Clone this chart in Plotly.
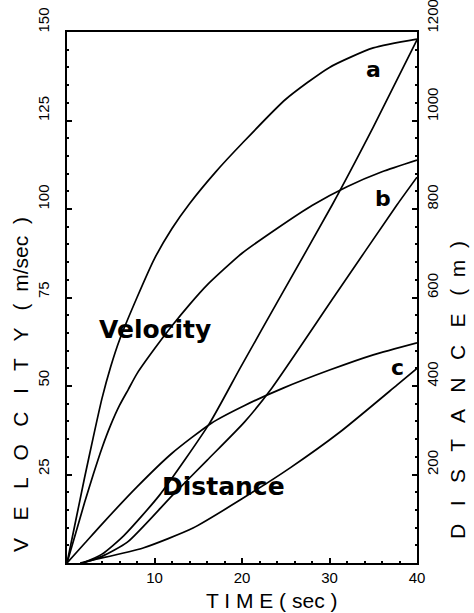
import plotly.graph_objects as go

# Velocity curves (m/sec) vs time (sec)
t_vel_a = [0, 1, 2, 3, 4, 5, 6, 8, 10, 12, 14, 17, 20, 25, 30, 35, 40]
vel_a = [0, 12, 24, 35.5, 46.5, 55.5, 63, 75, 86, 94.5, 101.5, 110.5, 118.5, 131, 140, 145.5, 148]

t_vel_b = [0, 1, 2, 3, 4, 5, 6, 7, 8, 10, 12, 14, 16, 20, 24, 28, 32, 36, 40]
vel_b = [0, 8.5, 17, 25, 32.5, 39, 44.5, 49, 53.5, 60.5, 67, 73, 78.5, 87.5, 94.5, 101, 106.3, 110.5, 113.8]

t_vel_c = [0, 2, 4, 8, 12, 16.5, 20.3, 24.7, 30, 35, 40]
vel_c = [0, 5.5, 11, 21.5, 31, 39.5, 44.5, 49.4, 54.5, 58.8, 62.2]

# Distance curves (m) vs time (sec)
t_dist_a = [1.8, 4, 6.5, 10.6, 16.3, 19.8, 24.5, 30.3, 35, 40]
dist_a = [0, 20, 62, 154, 316, 441, 606, 809, 985, 1182]

t_dist_b = [1.8, 4, 6.9, 12.1, 16, 20.3, 23.4, 30.5, 37.7, 40]
dist_b = [0, 15, 47, 154, 232, 319, 395, 601, 809, 872]

t_dist_c = [1.5, 3, 8.7, 14.4, 20, 25.5, 31.2, 37.7, 40]
dist_c = [0, 7, 34, 79, 145, 215, 296, 402, 440]

x_ticks = [10, 20, 30, 40]
vel_ticks = [25, 50, 75, 100, 125, 150]
dist_ticks = [200, 400, 600, 800, 1000, 1200]

line = dict(color="black", width=1.7, shape="spline", smoothing=0.6)

fig = go.Figure()
for tx, vy in [(t_vel_a, vel_a), (t_vel_b, vel_b), (t_vel_c, vel_c)]:
    fig.add_trace(go.Scatter(x=tx, y=vy, mode="lines", line=line, yaxis="y", showlegend=False))
for tx, dy in [(t_dist_a, dist_a), (t_dist_b, dist_b), (t_dist_c, dist_c)]:
    fig.add_trace(go.Scatter(x=tx, y=dy, mode="lines", line=line, yaxis="y2", showlegend=False))

tickfont = dict(family="Liberation Sans, Arial, sans-serif", size=15, color="black")
axis_common = dict(showgrid=False, zeroline=False, showline=True, linecolor="black",
                   linewidth=2, ticks="inside", ticklen=5, tickwidth=1.5, tickcolor="black",
                   tickfont=tickfont)

W, H = 474, 613
plot_l, plot_r, plot_t, plot_b = 67, 417, 32, 563   # pixel frame of the plot area

fig.update_layout(
    width=W, height=H,
    margin=dict(l=plot_l, r=W - plot_r, t=plot_t, b=H - plot_b),
    paper_bgcolor="white", plot_bgcolor="white",
    xaxis=dict(range=[0, 40], tickvals=x_ticks, ticktext=[str(v) for v in x_ticks], mirror=True,
               minor=dict(ticks="inside", ticklen=2, dtick=2, tickcolor="black"),
               **axis_common),
    yaxis=dict(range=[0, 150], tickvals=vel_ticks, showticklabels=False,
               minor=dict(ticks="inside", ticklen=2, dtick=5, tickcolor="black"),
               **axis_common),
    yaxis2=dict(range=[0, 1200], tickvals=dist_ticks, showticklabels=False,
                overlaying="y", side="right",
                minor=dict(ticks="inside", ticklen=2, dtick=40, tickcolor="black"),
                **axis_common),
)

title_font = dict(family="Liberation Sans, Arial, sans-serif", size=21, color="black")
label_font = dict(family="DejaVu Sans, sans-serif", size=25, color="black")
letter_font = dict(family="DejaVu Sans, sans-serif", size=22, color="black")

def px_to_paper(px, py):
    return (px - plot_l) / (plot_r - plot_l), (plot_b - py) / (plot_b - plot_t)

annos = []
for text, px, py, ang in [
    ("T I M E ( sec )", 271, 600, 0),
    ("V   E   L   O   C   I   T   Y   (  m/sec  )", 20, 385, -90),
    ("D   I   S   T   A   N   C   E   (  m  )", 458, 390, -90),
]:
    x, y = px_to_paper(px, py)
    annos.append(dict(text=text, x=x, y=y, xref="paper", yref="paper", textangle=ang,
                      xanchor="center", yanchor="middle", font=title_font, showarrow=False))

# rotated y tick labels: in the original they start at the tick and read upward
left_lab_x, _ = px_to_paper(43, 0)
right_lab_x, _ = px_to_paper(432, 0)
for v in vel_ticks:
    annos.append(dict(text=str(v), x=left_lab_x, y=v, xref="paper", yref="y", textangle=-90,
                      xanchor="center", yanchor="bottom", yshift=-3, font=tickfont, showarrow=False))
for v in dist_ticks:
    annos.append(dict(text=str(v), x=right_lab_x, y=v, xref="paper", yref="y2", textangle=-90,
                      xanchor="center", yanchor="bottom", yshift=-3, font=tickfont, showarrow=False))

annos += [
    dict(text="<b>Velocity</b>", x=10.06, y=66.1, xref="x", yref="y", font=label_font, showarrow=False),
    dict(text="<b>Distance</b>", x=17.9, y=21.5, xref="x", yref="y", font=label_font, showarrow=False),
    dict(text="<b>a</b>", x=35, y=139.3, xref="x", yref="y", font=letter_font, showarrow=False),
    dict(text="<b>b</b>", x=36.1, y=103.1, xref="x", yref="y", font=letter_font, showarrow=False),
    dict(text="<b>c</b>", x=37.8, y=55.1, xref="x", yref="y", font=letter_font, showarrow=False),
]
fig.update_layout(annotations=annos)

# remove the default 8px page margin so the figure fills the window exactly
fig.write_html("out.html", config={"displayModeBar": False},
               post_script="document.body.style.margin='0';")
